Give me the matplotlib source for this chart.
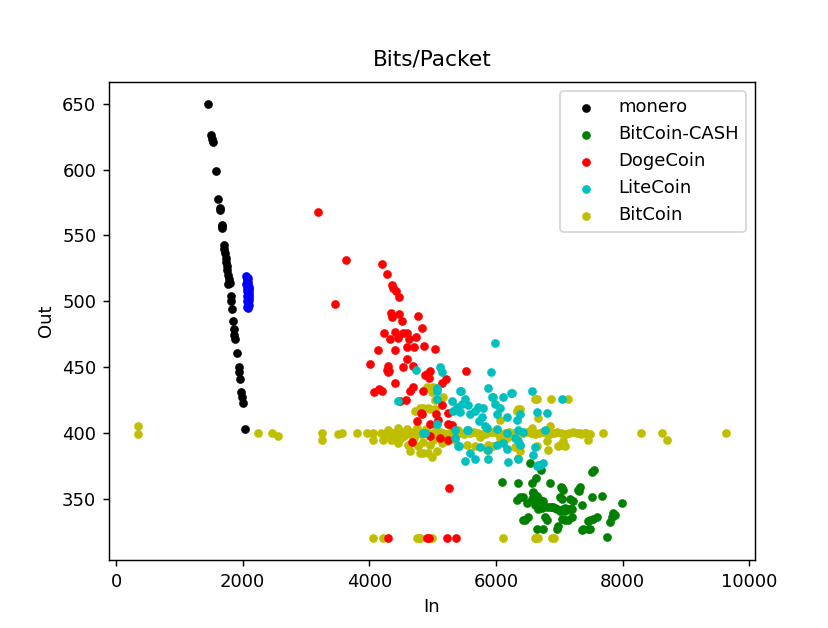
import numpy as np
import matplotlib
matplotlib.use('Agg')
import matplotlib.pyplot as plt

# (In, Out) pairs
monero = [(1447, 650), (1500, 626), (1516, 623), (1532, 621), (1574, 599), (1616, 578),
          (1642, 571), (1642, 569), (1674, 558), (1680, 556), (1668, 557), (1700, 543),
          (1710, 540), (1721, 537), (1732, 533), (1742, 530), (1748, 527), (1757, 524),
          (1773, 520), (1784, 517), (1800, 514), (1764, 513), (1811, 504), (1816, 500),
          (1827, 494), (1853, 485), (1868, 479), (1868, 474), (1879, 471), (1916, 461),
          (1937, 450), (1947, 446), (1958, 441), (1974, 431), (1990, 427), (2000, 423),
          (2037, 403)]

unlabelled = [(2060, 519), (2080, 518), (2070, 516), (2090, 515), (2060, 513), (2085, 512),
              (2075, 510), (2095, 509), (2065, 508), (2100, 507), (2080, 506), (2100, 505),
              (2070, 504), (2095, 503), (2085, 502), (2100, 501), (2075, 500), (2090, 499),
              (2080, 498), (2095, 497), (2070, 496), (2085, 495), (2095, 511), (2065, 517),
              (2090, 504)]

bch = [(7511, 370), (7548, 372), (6100, 363), (6353, 362), (6563, 362), (6632, 366),
       (6853, 362), (6711, 372), (6537, 377), (7037, 358), (7063, 357), (7300, 357),
       (7327, 359), (6327, 349), (6379, 351), (6590, 355), (6563, 350), (6695, 349),
       (6737, 348), (7011, 351), (7037, 350), (7169, 350), (7221, 348), (7511, 351),
       (7669, 352), (7985, 347), (6616, 345), (6669, 342), (6800, 344), (6879, 344),
       (6932, 343), (7090, 343), (7142, 342), (7195, 342), (7353, 345), (6458, 334),
       (6511, 336), (6800, 334), (7037, 335), (7142, 334), (7195, 336), (7458, 333),
       (7537, 335), (7590, 336), (7827, 336), (7880, 338), (7800, 332), (6643, 327),
       (6748, 327), (6958, 327), (6984, 329), (7353, 326), (7458, 327), (7748, 321),
       (6853, 344), (7011, 341), (7090, 341), (7169, 342), (7485, 334), (7853, 339),
       (7379, 327), (7485, 327), (6485, 347), (6722, 343), (6906, 344), (7063, 342),
       (6432, 334), (6774, 336), (7090, 334), (7021, 359), (7316, 356), (6643, 352),
       (6579, 354), (6432, 351), (6958, 342)]

doge = [(3195, 568), (3632, 531), (3453, 498), (4195, 528), (4274, 521), (4353, 512),
        (4379, 510), (4416, 508), (4468, 503), (4337, 491), (4353, 488), (4474, 490),
        (4510, 485), (4773, 489), (4837, 480), (4232, 476), (4400, 477), (4532, 476),
        (4600, 476), (4326, 471), (4453, 472), (4632, 471), (4742, 473), (4600, 465),
        (4705, 465), (4863, 466), (5037, 464), (4400, 463), (4142, 463), (4590, 456),
        (4011, 452), (4300, 451), (4532, 450), (4685, 451), (4311, 447), (4274, 448),
        (4958, 447), (4879, 444), (4916, 445), (4947, 442), (5532, 447), (5211, 441),
        (4405, 438), (4695, 435), (4642, 432), (4842, 432), (5142, 438), (4074, 431),
        (4158, 433), (4195, 432), (4484, 424), (5142, 421), (5053, 414), (5247, 415),
        (4827, 414), (4748, 409), (5090, 410), (4958, 407), (5247, 407), (5300, 406),
        (5116, 396), (5247, 395), (4669, 393), (4958, 398), (4579, 425), (5253, 358),
        (4290, 320), (4916, 320), (4937, 320), (5221, 320), (5368, 320), (4811, 415),
        (4300, 446)]

ltc = [(5984, 468), (5116, 450), (5142, 446), (4737, 448), (5916, 446), (5432, 432),
       (5879, 434), (6116, 427), (6248, 430), (6563, 432), (7037, 426), (5063, 432),
       (5300, 424), (5458, 422), (5563, 421), (5721, 420), (5800, 419), (5932, 427),
       (5984, 422), (6063, 419), (5326, 417), (5432, 416), (5589, 414), (5668, 417),
       (5774, 412), (5737, 409), (5826, 405), (6011, 414), (6169, 412), (6327, 410),
       (6379, 414), (6642, 416), (6800, 415), (5353, 402), (5563, 402), (5853, 404),
       (6011, 403), (6169, 400), (6353, 402), (6432, 401), (6774, 402), (4879, 400),
       (5353, 396), (6300, 396), (6353, 394), (5405, 390), (5748, 389), (5879, 387),
       (6169, 388), (6011, 391), (6116, 392), (5589, 385), (5511, 379), (5668, 380),
       (5879, 380), (6195, 378), (6353, 380), (6616, 389), (6579, 383), (6642, 375),
       (6695, 376), (6737, 377), (4458, 424), (5063, 434), (5063, 426), (4853, 400),
       (5063, 407), (5379, 420), (5511, 426), (5547, 402), (5421, 390), (5958, 427),
       (5442, 432), (6237, 430), (6379, 391), (6669, 376)]

btc = [(352, 405), (352, 399), (2247, 400), (2468, 400), (2563, 398), (3258, 400),
       (3258, 395), (3511, 399), (3563, 400), (3800, 400), (3958, 400), (4053, 400),
       (4053, 395), (4221, 395), (4342, 395), (4405, 400),
       (4053, 320), (4211, 320), (4748, 320), (4780, 320), (4800, 320), (4985, 320),
       (6106, 320), (6616, 320), (6640, 320), (6669, 320), (6880, 320), (6916, 320),
       (7685, 400), (8290, 400), (8627, 400), (8695, 395), (9627, 400), (7458, 395),
       (7327, 400), (7406, 400),
       (6643, 426), (6864, 426), (7142, 426), (6379, 418), (6669, 411), (6853, 405),
       (6353, 418), (4800, 419), (4932, 419), (5037, 418), (5116, 425), (5000, 435),
       (5063, 434), (4906, 435), (4985, 431), (5037, 425), (5169, 427), (4721, 417),
       (4853, 419), (4958, 418), (6063, 410), (6616, 426), (6327, 417), (5405, 402),
       (5300, 404),
       (7011, 391), (7063, 394), (6827, 387), (6379, 386), (6353, 381), (7090, 390),
       (7037, 391), (6800, 394), (6984, 390), (6063, 396), (5537, 391), (6300, 389),
       (6379, 390), (4616, 391), (4774, 390), (4958, 391), (5142, 392), (4800, 385),
       (4932, 385), (5063, 386), (5353, 395), (5221, 394), (5748, 397), (5826, 399),
       (5668, 390), (5879, 391), (5958, 390), (6169, 396), (6327, 397), (5853, 387),
       (4642, 386), (4853, 385), (4985, 382), (6563, 404), (6643, 390), (4405, 395),
       (4450, 392), (4500, 396), (4550, 398), (4700, 396), (4850, 393), (5000, 395),
       (5100, 397), (4300, 402), (4450, 404), (4600, 403), (4750, 404), (4900, 403),
       (5050, 402), (5200, 398),
       (4180, 400), (4260, 399), (4330, 401), (4390, 400), (4470, 399), (4520, 401),
       (4580, 400), (4640, 399), (4690, 401), (4760, 400), (4810, 399), (4870, 401),
       (4930, 400), (4990, 399), (5040, 400), (5110, 401), (5170, 400), (5230, 399),
       (5290, 400), (5360, 401), (5440, 400), (5500, 399), (5590, 400), (5650, 401),
       (5710, 400), (5790, 399), (5860, 400), (5930, 401), (6010, 400), (6080, 399),
       (6140, 400), (6210, 401), (6270, 400), (6340, 399), (6420, 400), (6490, 401),
       (6550, 400), (6610, 399), (6680, 400), (6730, 401), (6790, 400), (6850, 399),
       (6920, 400), (6970, 401), (7030, 400), (7100, 399), (7160, 400), (7210, 401),
       (7280, 400), (7350, 399), (7420, 400), (7490, 399)]

fig = plt.figure(figsize=(828 / 130, 628 / 130), dpi=130)
ax = fig.add_axes([0.1316, 0.1083, 0.7802, 0.7611])

def dots(data, color, label=None):
    x, y = np.array(data).T
    return ax.scatter(x, y, s=20, c=color, linewidths=0.3, edgecolors=color, label=label)

h_btc = dots(btc, 'y', 'BitCoin')
h_bch = dots(bch, 'g', 'BitCoin-CASH')
h_doge = dots(doge, 'r', 'DogeCoin')
h_ltc = dots(ltc, 'c', 'LiteCoin')
h_mon = dots(monero, 'k', 'monero')
dots(unlabelled, 'b')

ax.set_title('Bits/Packet', pad=9)
ax.set_xlabel('In')
ax.set_ylabel('Out')
ax.legend([h_mon, h_bch, h_doge, h_ltc, h_btc],
          ['monero', 'BitCoin-CASH', 'DogeCoin', 'LiteCoin', 'BitCoin'],
          loc='upper right', scatterpoints=1)

fig.savefig('out.png', dpi=130)
